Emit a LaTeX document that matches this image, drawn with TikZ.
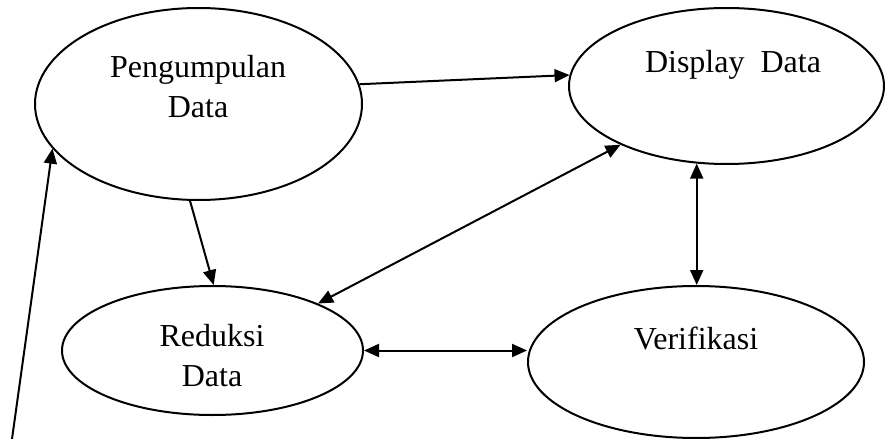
\documentclass[tikz,border=0pt]{standalone}
\usepackage{fontspec}
\setmainfont{Liberation Serif}
\usetikzlibrary{shapes.geometric,arrows.meta,calc}
\begin{document}
\begin{tikzpicture}[x=1pt,y=-1pt,
  oval/.style={draw,ellipse,line width=2pt,inner sep=0pt},
  lbl/.style={font=\fontsize{32}{40}\selectfont,align=center,inner sep=0pt},
  conn/.style={line width=2pt},
  tip/.tip={Triangle[length=15pt,width=13pt]}]
\useasboundingbox (0,0) rectangle (887,439);
\node[oval,minimum width=327pt,minimum height=192pt] (p) at (198.5,104) {};
\node[oval,minimum width=315pt,minimum height=156pt] (d) at (726.5,86) {};
\node[oval,minimum width=301pt,minimum height=129pt] (r) at (212.5,350.5) {};
\node[oval,minimum width=336pt,minimum height=152pt] (v) at (696,362) {};
\node[lbl] (pt) at (198,87) {Pengumpulan\\Data};
\node[lbl,anchor=base] (dt) at (733,72) {Display\ \ Data};
\node[lbl] (rt) at (212,356) {Reduksi\\Data};
\node[lbl,anchor=base] (vt) at (696,349) {Verifikasi};
\coordinate (free) at (12,439);
\draw[conn,-{tip}] (p.7) -- (d.176);
\draw[conn,-{tip}] (p.265.5) -- (r.89);
\draw[conn,{tip}-{tip}] (r.24) -- (d.209.4);
\draw[conn,{tip}-{tip}] (d.249.6) -- (d.249.6 |- v.north);
\draw[conn,{tip}-{tip}] (r.east) -- (r.east -| v.west);
\draw[conn,-{tip}] (free) -- (p.197);
\end{tikzpicture}
\end{document}
